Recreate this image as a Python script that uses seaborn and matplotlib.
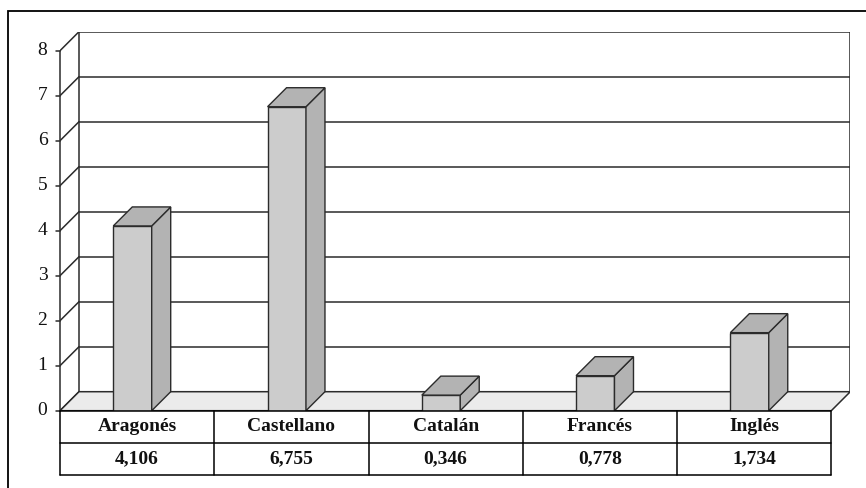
import matplotlib
matplotlib.use("Agg")
import matplotlib.pyplot as plt
import seaborn as sns
import pandas as pd
from matplotlib.patches import Polygon, Rectangle

# Data
idiomas = ["Aragonés", "Castellano", "Catalán", "Francés", "Inglés"]
valores = [4.106, 6.755, 0.346, 0.778, 1.734]
marcas_y = [0, 1, 2, 3, 4, 5, 6, 7, 8]

# Geometry of the pseudo-3D frame (pixels)
W, H = 866, 488
left_px, right_front_px = 60.0, 831.3
base_px = 410.7            # floor front edge, measured from the top
unit_px = 45.0             # pixels per unit on the value axis
depth_px = 19.0            # depth offset of the back wall
n = len(idiomas)
cell_px = (right_front_px - left_px) / n
dx = depth_px / cell_px
dy = depth_px / unit_px
ymax = marcas_y[-1]

sns.set_theme(style="white")
plt.rcParams["font.family"] = ["Liberation Serif", "DejaVu Serif"]

fig = plt.figure(figsize=(W / 100, H / 100), dpi=100)
ax_w = (right_front_px - left_px) + depth_px
ax_h = ymax * unit_px + depth_px
ax = fig.add_axes([left_px / W, (H - base_px) / H, ax_w / W, ax_h / H])

edge = "#2b2b2b"
front = "#cccccc"
shade = "#b3b3b3"

# Front faces of the columns
df = pd.DataFrame({"idioma": idiomas, "valor": valores})
sns.barplot(data=df, x="idioma", y="valor", width=0.249, color=front,
            saturation=1, edgecolor=edge, linewidth=1.0, ax=ax, zorder=4)
bars = list(ax.patches)

ax.set_xlim(-0.5, n - 0.5 + dx)
ax.set_ylim(0, ymax + dy)
ax.axis("off")

x0, x1 = -0.5, n - 0.5

# Floor
ax.add_patch(Polygon([(x0, 0), (x1, 0), (x1 + dx, dy), (x0 + dx, dy)],
                     closed=True, facecolor="#ebebeb", edgecolor=edge,
                     lw=1.1, zorder=1))

# Back wall gridlines and edges
for t in marcas_y[1:]:
    ax.plot([x0 + dx, x1 + dx], [t + dy, t + dy], color=edge, lw=1.1, zorder=0.5)
for xb in (x0 + dx, x1 + dx):
    ax.plot([xb, xb], [dy, ymax + dy], color=edge, lw=1.1, zorder=0.5)

# Side wall diagonals and front value axis
for t in marcas_y:
    ax.plot([x0, x0 + dx], [t, t + dy], color=edge, lw=1.1, zorder=0.5)
ax.plot([x0, x0], [0, ymax], color=edge, lw=1.1, zorder=2, clip_on=False)
tick_len = 4.5 / cell_px
for t in marcas_y:
    ax.plot([x0 - tick_len, x0], [t, t], color=edge, lw=1.1, clip_on=False)
    ax.text(x0 - 12.5 / cell_px, t, str(t), ha="right", va="center",
            fontsize=14, color="#111111")

# Side and top faces of each column
for p in bars:
    p.set_x(p.get_x() - 0.03)
    bx, bw, bh = p.get_x(), p.get_width(), p.get_height()
    side = Polygon([(bx + bw, 0), (bx + bw + dx, dy), (bx + bw + dx, bh + dy), (bx + bw, bh)],
                   closed=True, facecolor=shade, edgecolor=edge, lw=1.0, zorder=4)
    top = Polygon([(bx, bh), (bx + bw, bh), (bx + bw + dx, bh + dy), (bx + dx, bh + dy)],
                  closed=True, facecolor=shade, edgecolor=edge, lw=1.0, zorder=4)
    ax.add_patch(side)
    ax.add_patch(top)

# Data table under the plot
r1 = 32.0 / unit_px
r2 = 32.3 / unit_px
for yy in (0, -r1, -(r1 + r2)):
    ax.plot([x0, x1], [yy, yy], color="black", lw=1.1, clip_on=False, zorder=5)
for i in range(n + 1):
    ax.plot([x0 + i, x0 + i], [0, -(r1 + r2)], color="black", lw=1.1,
            clip_on=False, zorder=5)
for i, (nombre, v) in enumerate(zip(idiomas, valores)):
    ax.text(i, -r1 / 2, nombre, ha="center", va="center", fontsize=14,
            fontweight="bold", color="#111111", clip_on=False)
    ax.text(i, -r1 - r2 / 2, f"{v:.3f}".replace(".", ","), ha="center",
            va="center", fontsize=14, fontweight="bold", color="#111111",
            clip_on=False)

# Outer chart border (runs past the bottom and right edges)
fig.add_artist(Rectangle((8 / W, -0.5), 2, (1 - 11 / H) + 0.5,
                         transform=fig.transFigure, fill=False,
                         edgecolor="black", lw=1.3))

fig.savefig("out.png", dpi=100)
